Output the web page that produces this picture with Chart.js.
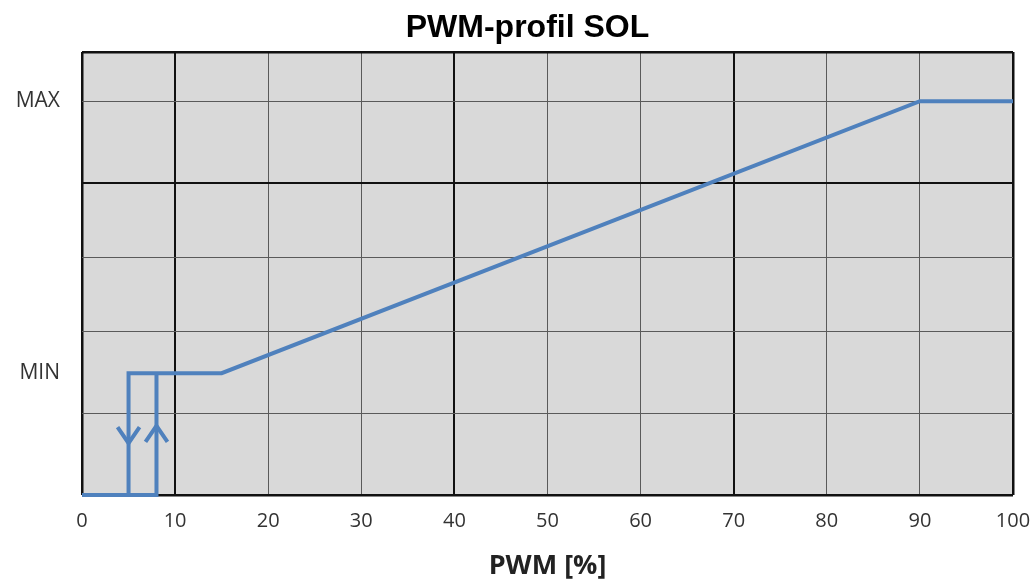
<!DOCTYPE html>
<html>
<head>
<meta charset="utf-8">
<script src="https://cdn.jsdelivr.net/npm/chart.js@4"></script>
<style>
    html, body { margin: 0; padding: 0; background: #ffffff; }
    #wrap { width: 1034px; height: 584px; }
</style>
</head>
<body>
<div id="wrap"><canvas id="pwmChart" width="1034" height="584"></canvas></div>
<script>
// Données
const minLevel = 27.5;
const maxLevel = 88.9;

const profileX = [0, 5, 5, 15, 90, 100];
const profileY = [0, 0, minLevel, minLevel, maxLevel, maxLevel];

const hystX = [5, 8, 8];
const hystY = [0, 0, minLevel];

// Flèches de l'hystérésis (x, pointe y, sens: 1 = bas, -1 = haut)
const arrowX = [5, 8];
const arrowTipY = [11.7, 15.6];
const arrowDir = [1, -1];

// Lignes horizontales de la grille
const yGridValues = [0, 18.5, 37, 53.7, 70.4, maxLevel, 100];
const thickYGrid = [0, 70.4, 100];
const thickXGrid = [0, 10, 40, 70, 100];

const yLabels = {};
yLabels[minLevel] = 'MIN';
yLabels[maxLevel] = 'MAX';

const chartTitle = 'PWM-profil SOL';
const lineColor = 'rgb(79, 129, 189)';

function toPoints(xs, ys) {
    return xs.map((x, i) => ({ x: x, y: ys[i] }));
}

// Fond gris de la zone de tracé
const plotBackground = {
    id: 'plotBackground',
    beforeDraw(chart) {
        const { ctx, chartArea } = chart;
        ctx.save();
        ctx.fillStyle = '#d9d9d9';
        ctx.fillRect(chartArea.left, chartArea.top, chartArea.right - chartArea.left, chartArea.bottom - chartArea.top);
        ctx.restore();
    }
};

// Titre centré un peu à gauche du centre de la zone de tracé
const titlePlugin = {
    id: 'customTitle',
    afterDraw(chart) {
        const { ctx, chartArea } = chart;
        ctx.save();
        ctx.fillStyle = '#000000';
        ctx.font = 'bold 32px "Liberation Sans", Arial, sans-serif';
        ctx.textAlign = 'center';
        ctx.textBaseline = 'alphabetic';
        ctx.fillText(chartTitle, (chartArea.left + chartArea.right) / 2 - 20, 37);
        ctx.restore();
    }
};

// Dessiner les flèches
const arrowPlugin = {
    id: 'arrows',
    afterDatasetsDraw(chart) {
        const { ctx, scales } = chart;
        ctx.save();
        ctx.strokeStyle = lineColor;
        ctx.lineWidth = 4;
        ctx.lineCap = 'butt';
        ctx.lineJoin = 'miter';
        arrowX.forEach((v, i) => {
            const px = scales.x.getPixelForValue(v);
            const py = scales.y.getPixelForValue(arrowTipY[i]);
            const d = arrowDir[i];
            ctx.beginPath();
            ctx.moveTo(px - 11, py - d * 16);
            ctx.lineTo(px, py);
            ctx.lineTo(px + 11, py - d * 16);
            ctx.stroke();
        });
        ctx.restore();
    }
};

const ctx = document.getElementById('pwmChart').getContext('2d');

const pwmChart = new Chart(ctx, {
    type: 'scatter',
    data: {
        datasets: [
            {
                data: toPoints(profileX, profileY),
                showLine: true,
                borderColor: lineColor,
                borderWidth: 4,
                pointRadius: 0,
                fill: false,
                tension: 0,
                clip: false
            },
            {
                data: toPoints(hystX, hystY),
                showLine: true,
                borderColor: lineColor,
                borderWidth: 4,
                pointRadius: 0,
                fill: false,
                tension: 0,
                clip: false
            }
        ]
    },
    options: {
        responsive: false,
        animation: false,
        layout: {
            padding: { left: 0, right: 21, top: 52, bottom: 0 }
        },
        plugins: {
            legend: { display: false },
            tooltip: { enabled: false },
            title: { display: false }
        },
        scales: {
            x: {
                type: 'linear',
                min: 0,
                max: 100,
                afterFit(axis) {
                    axis.height = 89;
                    axis.paddingLeft = 0;
                    axis.paddingRight = 0;
                },
                ticks: {
                    stepSize: 10,
                    padding: 14,
                    color: '#333333',
                    font: { family: 'Open Sans, sans-serif', size: 20 }
                },
                border: { display: false },
                grid: {
                    drawTicks: false,
                    color: c => thickXGrid.includes(c.tick.value) ? '#111111' : '#5a5a5a',
                    lineWidth: c => {
                        const v = c.tick.value;
                        if (v === 0 || v === 100) return 2.5;
                        return thickXGrid.includes(v) ? 2 : 1;
                    }
                },
                title: {
                    display: true,
                    text: 'PWM [%]',
                    color: '#222222',
                    font: { family: 'Open Sans, sans-serif', size: 27, weight: 'bold', lineHeight: 1.2 },
                    padding: { top: 0, bottom: 1 }
                }
            },
            y: {
                type: 'linear',
                min: 0,
                max: 100,
                afterFit(axis) {
                    axis.width = 82;
                    axis.paddingTop = 0;
                    axis.paddingBottom = 0;
                },
                afterBuildTicks(axis) {
                    const values = yGridValues.concat([minLevel]).sort((a, b) => a - b);
                    axis.ticks = values.map(v => ({ value: v }));
                },
                ticks: {
                    padding: 22,
                    color: '#333333',
                    font: { family: 'Open Sans, sans-serif', size: 21 },
                    callback: v => yLabels[v] || ''
                },
                border: { display: false },
                grid: {
                    drawTicks: false,
                    color: c => {
                        const v = c.tick.value;
                        if (!yGridValues.includes(v)) return 'rgba(0,0,0,0)';
                        return thickYGrid.includes(v) ? '#111111' : '#5a5a5a';
                    },
                    lineWidth: c => {
                        const v = c.tick.value;
                        if (v === 0 || v === 100) return 2.5;
                        return thickYGrid.includes(v) ? 2 : 1;
                    }
                }
            }
        }
    },
    plugins: [plotBackground, arrowPlugin, titlePlugin]
});
</script>
</body>
</html>
